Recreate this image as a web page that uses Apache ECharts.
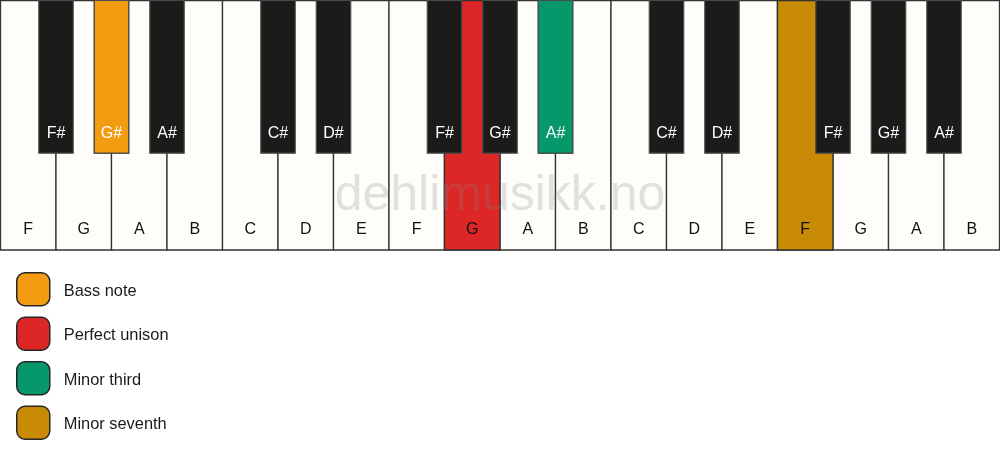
<!DOCTYPE html>
<html><head><meta charset="utf-8">
<script src="https://cdn.jsdelivr.net/npm/echarts@6/dist/echarts.min.js"></script>
<style>html,body{margin:0;padding:0;background:#fff}#c{width:1000px;height:461px}</style>
</head><body><div id="c"></div>
<script>
// ---- data ----
const whiteKeys = ['F','G','A','B','C','D','E','F','G','A','B','C','D','E','F','G','A','B'];
const blackKeys = ['F#','G#','A#','C#','D#','F#','G#','A#','C#','D#','F#','G#','A#'];
const blackKeyAfter = [0,1,2,4,5,7,8,9,11,12,14,15,16]; // white key index to the left of each black key
const roleNames = ['Bass note','Perfect unison','Minor third','Minor seventh'];
const roleColors = ['#f39c12','#dd2727','#06976a','#c98a05'];
const roleKeyType = ['black','white','black','white'];
const roleKeyIndex = [1, 8, 7, 14];
const watermark = 'dehlimusikk.no';

// ---- styles ----
const FONT = '"Liberation Sans", Arial, Helvetica, sans-serif';
const WHITE_FILL = '#fffdf9';
const BLACK_FILL = '#1c1b1a';
const BLACK_W = 0.62;     // black key width, in white-key units
const BLACK_H = 0.612;    // black key height, fraction of keyboard
const WHITE_LABEL_Y = 0.92;
const BLACK_LABEL_Y = 0.534;

function whiteRender(fillFn){
  return function(params, api){
    const i = api.value(0);
    const p0 = api.coord([i, 0]), p1 = api.coord([i + 1, 1]);
    const lab = api.coord([i + 0.5, WHITE_LABEL_Y]);
    return {type:'group', children:[
      {type:'rect', shape:{x:p0[0], y:p0[1], width:p1[0]-p0[0], height:p1[1]-p0[1]},
       style:{fill: fillFn(), stroke:'#333', lineWidth:1.3}},
      {type:'text', style:{x:lab[0], y:lab[1], text: whiteKeys[i], fill:'#111',
       font:'16px ' + FONT, textAlign:'center', textVerticalAlign:'middle'}}
    ]};
  };
}
function blackRender(fillFn){
  return function(params, api){
    const j = api.value(0);
    const c = blackKeyAfter[j] + 1;
    const p0 = api.coord([c - BLACK_W/2, 0]), p1 = api.coord([c + BLACK_W/2, BLACK_H]);
    const lab = api.coord([c, BLACK_LABEL_Y]);
    return {type:'group', children:[
      {type:'rect', shape:{x:p0[0], y:p0[1], width:p1[0]-p0[0], height:p1[1]-p0[1]},
       style:{fill: fillFn(), stroke:'#4a4a4a', lineWidth:1.2}},
      {type:'text', style:{x:lab[0], y:lab[1], text: blackKeys[j], fill:'#ffffff',
       font:'16px ' + FONT, textAlign:'center', textVerticalAlign:'middle'}}
    ]};
  };
}

const series = [
  {type:'custom', name:'white', z:1, silent:true, data: whiteKeys.map((n,i)=>[i,0]),
   renderItem: whiteRender(()=>WHITE_FILL)},
  {type:'custom', name:'black', z:3, silent:true, data: blackKeys.map((n,j)=>[j,0]),
   renderItem: blackRender(()=>BLACK_FILL)}
];
roleNames.forEach((name, r) => {
  const isWhite = roleKeyType[r] === 'white';
  series.push({
    type:'custom', name: name, z: isWhite ? 2 : 4, silent:true,
    itemStyle:{color: roleColors[r]},
    data: [[roleKeyIndex[r], 0]],
    renderItem: isWhite ? whiteRender(()=>roleColors[r]) : blackRender(()=>roleColors[r])
  });
});

const chart = echarts.init(document.getElementById('c'), null, {renderer:'canvas'});
chart.setOption({
  animation:false,
  backgroundColor:'#ffffff',
  grid:{left:0.5, right:0.5, top:0.5, height:249.5},
  xAxis:{type:'value', min:0, max:whiteKeys.length, show:false},
  yAxis:{type:'value', min:0, max:1, inverse:true, show:false},
  legend:{
    orient:'vertical', left:11, top:267, padding:5, itemWidth:33, itemHeight:33, itemGap:10,
    selectedMode:false,
    data: roleNames.map(n=>({name:n, icon:'roundRect'})),
    itemStyle:{borderColor:'#262626', borderWidth:1.5},
    formatter:'{t|{name}}',
    textStyle:{rich:{t:{padding:[4,0,0,9], fontSize:16.4, color:'#1a1a1a', fontFamily:FONT}}}
  },
  graphic:[{type:'text', left:'center', top:171, z:100, silent:true,
    style:{text: watermark, font:'50px ' + FONT, fill:'rgba(128,128,128,0.23)'}}],
  series: series
});
</script>
</body></html>
